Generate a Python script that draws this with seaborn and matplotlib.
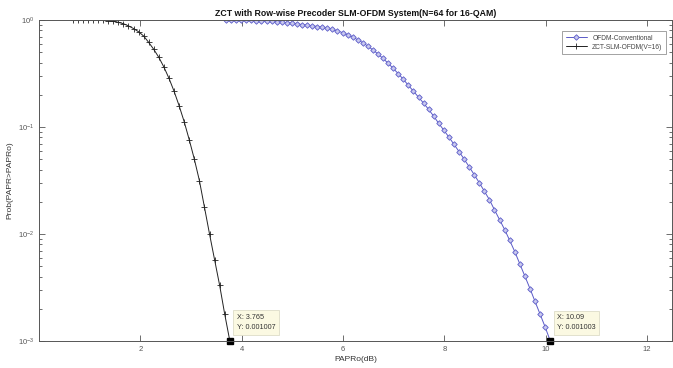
import numpy as np
import pandas as pd
import matplotlib
matplotlib.use("Agg")
import matplotlib.pyplot as plt
import seaborn as sns

# PAPR threshold (dB) and CCDF values
papr_zct = [0.665, 0.765, 0.865, 0.965, 1.065, 1.165, 1.265, 1.365, 1.465, 1.565,
            1.665, 1.765, 1.865, 1.965, 2.065, 2.165, 2.265, 2.365, 2.465, 2.565,
            2.665, 2.765, 2.865, 2.965, 3.065, 3.165, 3.265, 3.365, 3.465, 3.565,
            3.665, 3.765]
ccdf_zct = [1.0, 1.0, 1.0, 0.998, 0.995, 0.993, 0.989, 0.982, 0.971, 0.951,
            0.923, 0.881, 0.832, 0.776, 0.708, 0.617, 0.531, 0.447, 0.363, 0.285,
            0.216, 0.158, 0.112, 0.0759, 0.0501, 0.0316, 0.0178, 0.0100, 0.00575, 0.00331,
            0.00178, 0.001007]

papr_ofdm = [3.69, 3.79, 3.89, 3.99, 4.09, 4.19, 4.29, 4.39, 4.49, 4.59,
             4.69, 4.79, 4.89, 4.99, 5.09, 5.19, 5.29, 5.39, 5.49, 5.59,
             5.69, 5.79, 5.89, 5.99, 6.09, 6.19, 6.29, 6.39, 6.49, 6.59,
             6.69, 6.79, 6.89, 6.99, 7.09, 7.19, 7.29, 7.39, 7.49, 7.59,
             7.69, 7.79, 7.89, 7.99, 8.09, 8.19, 8.29, 8.39, 8.49, 8.59,
             8.69, 8.79, 8.89, 8.99, 9.09, 9.19, 9.29, 9.39, 9.49, 9.59,
             9.69, 9.79, 9.89, 9.99, 10.09]
ccdf_ofdm = [1.0, 0.998, 0.995, 0.993, 0.991, 0.989, 0.984, 0.979, 0.975, 0.968,
             0.962, 0.953, 0.944, 0.933, 0.920, 0.906, 0.895, 0.883, 0.869, 0.853,
             0.836, 0.815, 0.791, 0.762, 0.729, 0.692, 0.653, 0.614, 0.569, 0.525,
             0.481, 0.437, 0.394, 0.353, 0.315, 0.279, 0.245, 0.216, 0.190, 0.167,
             0.146, 0.126, 0.108, 0.0933, 0.0804, 0.0689, 0.0589, 0.0501, 0.0425, 0.0358,
             0.0301, 0.0251, 0.0209, 0.0168, 0.0136, 0.0110, 0.00871, 0.00684, 0.00525, 0.00403,
             0.00309, 0.00234, 0.00178, 0.00135, 0.001003]

series_names = ["OFDM-Conventional", "ZCT-SLM-OFDM(V=16)"]
x_ticks = [2, 4, 6, 8, 10, 12]

df_ofdm = pd.DataFrame({"papr": papr_ofdm, "ccdf": ccdf_ofdm})
df_zct = pd.DataFrame({"papr": papr_zct, "ccdf": ccdf_zct})

sns.set_style("ticks")
plt.rcParams["font.family"] = ["Liberation Sans", "DejaVu Sans"]

fig = plt.figure(figsize=(6.73, 3.68), dpi=100)
ax = fig.add_axes([0.058, 0.0734, 0.941, 0.8723])

blue = "#5a5ac8"
sns.lineplot(data=df_ofdm, x="papr", y="ccdf", ax=ax, color=blue, lw=0.7,
             marker="D", markersize=2.8, markerfacecolor="#c8c8ee",
             markeredgecolor=blue, markeredgewidth=0.6, label=series_names[0])
sns.lineplot(data=df_zct, x="papr", y="ccdf", ax=ax, color="#222222", lw=0.7,
             marker="+", markersize=4.5, markeredgecolor="#222222",
             markeredgewidth=0.6, label=series_names[1])

ax.set_yscale("log")
ax.set_xlim(0, 12.5)
ax.set_ylim(1e-3, 1)
ax.set_xticks(x_ticks)

ax.tick_params(which="both", direction="in", top=True, right=True,
               labelsize=5.5, colors="#555555", width=0.6)
ax.tick_params(which="major", length=4)
ax.tick_params(which="minor", length=2)
for s in ax.spines.values():
    s.set_color("#555555")
    s.set_linewidth(0.7)

ax.set_xlabel("PAPRo(dB)", fontsize=6, color="#333333", labelpad=2)
ax.set_ylabel("Prob(PAPR>PAPRo)", fontsize=6, color="#333333", labelpad=3)
ax.set_title("ZCT with Row-wise Precoder SLM-OFDM System(N=64 for 16-QAM)",
             fontsize=6.3, fontweight="bold", pad=3, color="#111111")

leg = ax.legend(loc="upper right", fontsize=4.8, frameon=True, fancybox=False,
                borderpad=0.5, handlelength=3.2, labelspacing=0.3,
                bbox_to_anchor=(0.995, 0.975))
leg.get_frame().set_edgecolor("#777777")
leg.get_frame().set_linewidth(0.6)
for t in leg.get_texts():
    t.set_color("#444444")

# data tips at the end points
for xe, ye in [(papr_zct[-1], ccdf_zct[-1]), (papr_ofdm[-1], ccdf_ofdm[-1])]:
    ax.plot([xe], [ye], marker="s", color="black", markersize=4.5, clip_on=False)
    ax.annotate(f"X: {xe:g}\nY: {ye:g}", xy=(xe, ye), xytext=(5, 7),
                textcoords="offset points", fontsize=5.2, color="#333333",
                va="bottom", ha="left", linespacing=1.6,
                bbox=dict(boxstyle="square,pad=0.5", fc="#fbf9e2", ec="#d8d6c0", lw=0.5))

fig.savefig("out.png", dpi=100)
